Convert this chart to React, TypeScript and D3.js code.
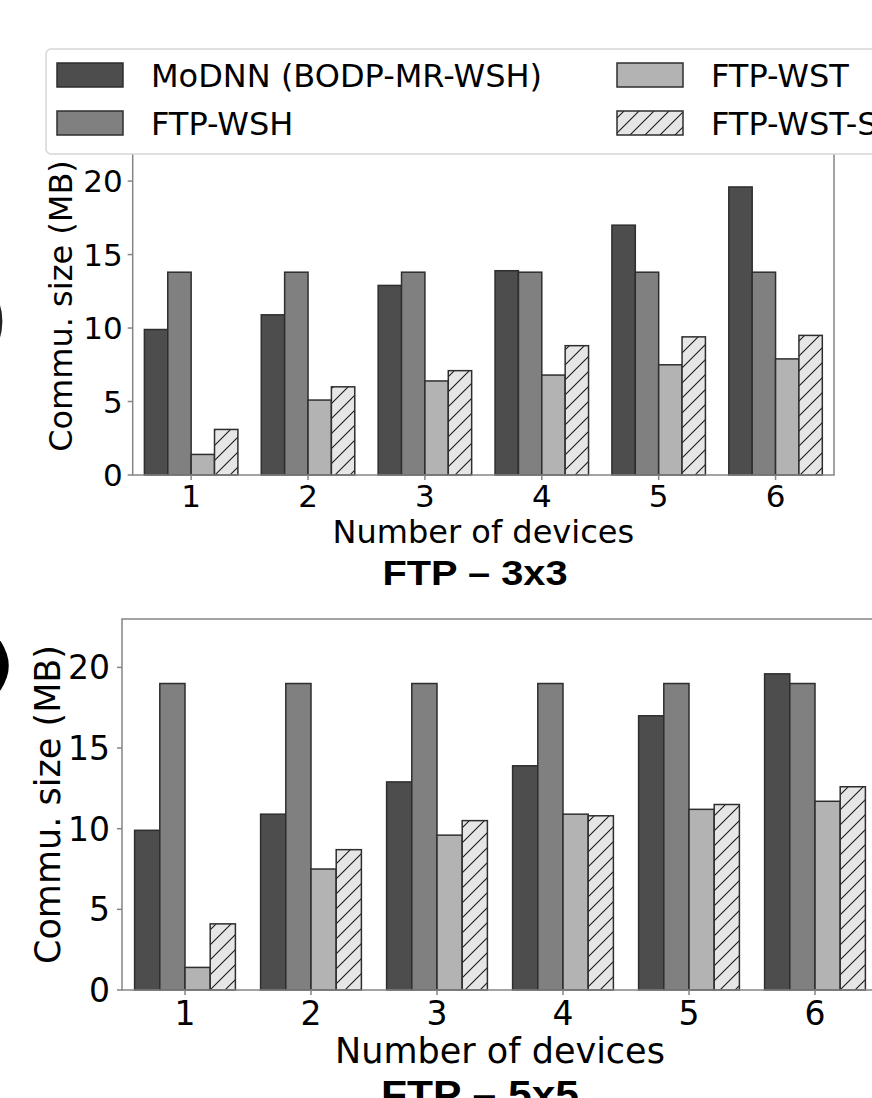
import * as d3 from "d3";
import { useRef, useEffect } from "react";

const devices = [1, 2, 3, 4, 5, 6];
const seriesNames = ["MoDNN (BODP-MR-WSH)", "FTP-WSH", "FTP-WST", "FTP-WST-S"];
const yTicks = [0, 5, 10, 15, 20];

// FTP - 3x3
const modnn3x3 = [9.9, 10.9, 12.9, 13.9, 17.0, 19.6];
const wsh3x3 = [13.8, 13.8, 13.8, 13.8, 13.8, 13.8];
const wst3x3 = [1.4, 5.1, 6.4, 6.8, 7.5, 7.9];
const wsts3x3 = [3.1, 6.0, 7.1, 8.8, 9.4, 9.5];

// FTP - 5x5
const modnn5x5 = [9.9, 10.9, 12.9, 13.9, 17.0, 19.6];
const wsh5x5 = [19.0, 19.0, 19.0, 19.0, 19.0, 19.0];
const wst5x5 = [1.4, 7.5, 9.6, 10.9, 11.2, 11.7];
const wsts5x5 = [4.1, 8.7, 10.5, 10.8, 11.5, 12.6];

const FILLS = ["#4d4d4d", "#808080", "#b3b3b3", "url(#hatch)"];
const FONT = "DejaVu Sans, sans-serif";
const SPINE = "#858585";

function drawPanel(svg, series, cfg) {
  const x = d3.scaleLinear().domain([0.5, 6.5]).range([cfg.left, cfg.right]);
  const y = d3.scaleLinear().domain([0, 23]).range([cfg.bottom, cfg.top]);
  const bw = x(0.2) - x(0);
  const g = svg.append("g");

  series.forEach((vals, i) => {
    g.append("g").selectAll("rect")
      .data(vals)
      .join("rect")
      .attr("x", (d, j) => x(devices[j] - 0.4 + i * 0.2))
      .attr("y", d => y(d))
      .attr("width", bw)
      .attr("height", d => y(0) - y(d))
      .attr("fill", FILLS[i])
      .attr("stroke", "#2e2e2e")
      .attr("stroke-width", 1.5);
  });

  // frame
  g.append("rect")
    .attr("x", x(0.5)).attr("y", y(23))
    .attr("width", x(6.5) - x(0.5)).attr("height", y(0) - y(23))
    .attr("fill", "none").attr("stroke", SPINE).attr("stroke-width", 1.5);

  // y ticks
  g.selectAll(".yt").data(yTicks).join("line")
    .attr("x1", cfg.left - 5).attr("x2", cfg.left)
    .attr("y1", d => y(d)).attr("y2", d => y(d))
    .attr("stroke", SPINE).attr("stroke-width", 1.5);
  g.selectAll(".yl").data(yTicks).join("text")
    .attr("x", cfg.left - cfg.yTickGap)
    .attr("y", d => y(d))
    .attr("dy", "0.36em")
    .attr("text-anchor", "end")
    .attr("font-family", FONT).attr("font-size", cfg.tickSize)
    .text(d => d);

  // x ticks
  g.selectAll(".xt").data(devices).join("line")
    .attr("x1", d => x(d)).attr("x2", d => x(d))
    .attr("y1", cfg.bottom).attr("y2", cfg.bottom + 5)
    .attr("stroke", SPINE).attr("stroke-width", 1.5);
  g.selectAll(".xl").data(devices).join("text")
    .attr("x", d => x(d))
    .attr("y", cfg.xTickBase)
    .attr("text-anchor", "middle")
    .attr("font-family", FONT).attr("font-size", cfg.tickSize)
    .text(d => d);

  g.append("text")
    .attr("x", (cfg.left + cfg.right) / 2)
    .attr("y", cfg.xLabelBase)
    .attr("text-anchor", "middle")
    .attr("font-family", FONT).attr("font-size", cfg.labelSize)
    .text("Number of devices");

  g.append("text")
    .attr("transform", `translate(${cfg.yLabelX},${(cfg.top + cfg.bottom) / 2}) rotate(-90)`)
    .attr("text-anchor", "middle")
    .attr("font-family", FONT).attr("font-size", cfg.labelSize)
    .text("Commu. size (MB)");

  g.append("text")
    .attr("x", cfg.titleX)
    .attr("y", cfg.titleBase)
    .attr("text-anchor", "middle")
    .attr("font-family", "Liberation Sans, Arial, sans-serif")
    .attr("font-weight", "bold")
    .attr("font-size", cfg.titleSize)
    .attr("textLength", cfg.titleLen)
    .attr("lengthAdjust", "spacingAndGlyphs")
    .text(cfg.title);
}

function App() {
  const svgRef = useRef(null);

  useEffect(() => {
    const svg = d3.select(svgRef.current);
    svg.selectAll("*").remove();

    const defs = svg.append("defs");
    const pat = defs.append("pattern")
      .attr("id", "hatch")
      .attr("patternUnits", "userSpaceOnUse")
      .attr("width", 15).attr("height", 15);
    pat.append("rect").attr("width", 15).attr("height", 15).attr("fill", "#e6e6e6");
    pat.append("path")
      .attr("d", "M0,15 L15,0 M-3,3 L3,-3 M12,18 L18,12")
      .attr("stroke", "#1a1a1a").attr("stroke-width", 1.1);

    drawPanel(svg, [modnn3x3, wsh3x3, wst3x3, wsts3x3], {
      left: 132.7, right: 834, bottom: 475, top: 137,
      tickSize: 31, labelSize: 32, yTickGap: 10,
      xTickBase: 507, xLabelBase: 543, yLabelX: 72,
      title: "FTP – 3x3", titleX: 475, titleBase: 585, titleSize: 35, titleLen: 185
    });

    drawPanel(svg, [modnn5x5, wsh5x5, wst5x5, wsts5x5], {
      left: 122, right: 878, bottom: 990, top: 619,
      tickSize: 33, labelSize: 35, yTickGap: 12,
      xTickBase: 1025, xLabelBase: 1063, yLabelX: 60,
      title: "FTP – 5x5", titleX: 480, titleBase: 1108, titleSize: 38, titleLen: 198
    });

    // legend (upper panel)
    const lg = svg.append("g");
    lg.append("rect")
      .attr("x", 46).attr("y", 49)
      .attr("width", 860).attr("height", 105)
      .attr("rx", 5)
      .attr("fill", "white")
      .attr("stroke", "#d6d6d6").attr("stroke-width", 1.5);

    const cols = [57, 617];
    const rows = [75, 123];
    const order = [0, 1, 2, 3]; // column-major like matplotlib
    order.forEach((si) => {
      const cx = cols[Math.floor(si / 2)];
      const cy = rows[si % 2];
      lg.append("rect")
        .attr("x", cx).attr("y", cy - 12)
        .attr("width", 66).attr("height", 24)
        .attr("fill", FILLS[si])
        .attr("stroke", "#2e2e2e").attr("stroke-width", 1.5);
      lg.append("text")
        .attr("x", cx + 94).attr("y", cy)
        .attr("dy", "0.36em")
        .attr("font-family", FONT).attr("font-size", 32)
        .text(seriesNames[si]);
    });

    // fragments of panel labels cut off on the left edge
    svg.append("text")
      .attr("x", -25).attr("y", 350)
      .attr("font-family", FONT).attr("font-size", 90)
      .attr("fill", "#222")
      .text(")");
    svg.append("text")
      .attr("x", -12).attr("y", 683)
      .attr("font-family", FONT).attr("font-weight", "bold").attr("font-size", 56)
      .text(")");
  }, []);

  return (
    <div style={{ position: "absolute", left: 0, top: 0 }}>
      <svg ref={svgRef} width={872} height={1098} style={{ display: "block" }} />
    </div>
  );
}

export default App;
